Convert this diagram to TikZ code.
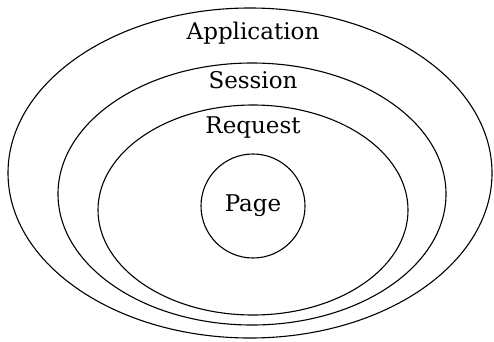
\documentclass[tikz,border=0pt]{standalone}
\usepackage{fontspec}
\setmainfont{DejaVu Serif}
\begin{document}
\begin{tikzpicture}[x=1pt,y=-1pt,
  ring/.style={draw=black,line width=1.1pt},
  lbl/.style={font=\fontsize{23}{27}\selectfont,inner sep=0pt}]
\useasboundingbox (0,0) rectangle (494,341);
\draw[ring] (250,173) ellipse [x radius=242,y radius=165];
\draw[ring] (252,194) ellipse [x radius=194,y radius=131];
\draw[ring] (253,210) ellipse [x radius=155,y radius=105];
\draw[ring] (253,206) circle [radius=52];
\node[lbl] (app) at (253,33) {Application};
\node[lbl] (ses) at (253,80) {Session};
\node[lbl] (req) at (253,128) {Request};
\node[lbl] (page) at (253,206) {Page};
\end{tikzpicture}
\end{document}
